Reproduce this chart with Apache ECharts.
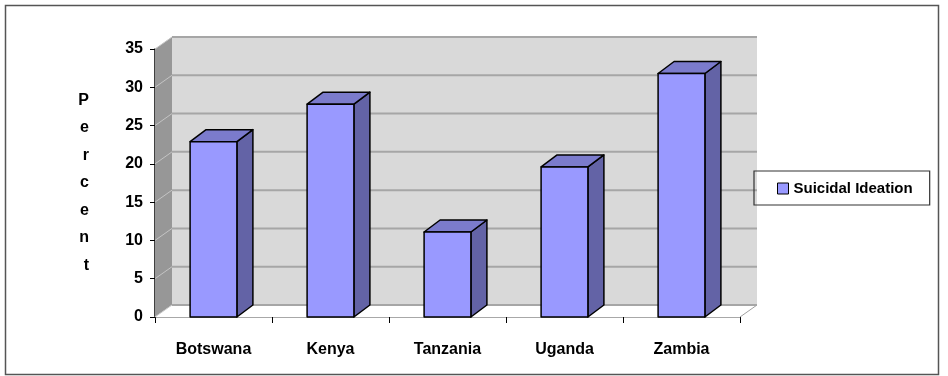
<!DOCTYPE html>
<html>
<head>
<meta charset="utf-8">
<script src="https://cdn.jsdelivr.net/npm/echarts@6/dist/echarts.min.js"></script>
<style>
html,body{margin:0;padding:0;background:#fff;}
#chart{width:948px;height:376px;}
</style>
</head>
<body>
<div id="chart"></div>
<script>
var categories = ['Botswana', 'Kenya', 'Tanzania', 'Uganda', 'Zambia'];
var ideation = [22.9, 27.8, 11.1, 19.6, 31.8];
var yTicks = [0, 5, 10, 15, 20, 25, 30, 35];

(function(){
var myChart = echarts.init(document.getElementById('chart'));

// depth offsets of the fake 3d look
var WALL_DX = 17, WALL_DY = -12;
var BAR_DX = 16, BAR_DY = -12;
var font = '"Liberation Sans", Arial, sans-serif';

function renderWalls(params, api) {
    var cs = params.coordSys;
    var x = cs.x, w = cs.width;
    var y0 = api.coord([0, 0])[1];
    var yTop = api.coord([0, yTicks[yTicks.length - 1]])[1];
    var kids = [];
    // back wall
    kids.push({type: 'polygon', shape: {points: [
        [x + WALL_DX, yTop + WALL_DY], [x + w + WALL_DX, yTop + WALL_DY],
        [x + w + WALL_DX, y0 + WALL_DY], [x + WALL_DX, y0 + WALL_DY]]},
        style: {fill: '#d9d9d9', stroke: null}});
    // side wall
    kids.push({type: 'polygon', shape: {points: [
        [x, y0], [x, yTop], [x + WALL_DX, yTop + WALL_DY], [x + WALL_DX, y0 + WALL_DY]]},
        style: {fill: '#979797', stroke: null}});
    // floor
    kids.push({type: 'polygon', shape: {points: [
        [x, y0], [x + WALL_DX, y0 + WALL_DY], [x + w + WALL_DX, y0 + WALL_DY], [x + w, y0]]},
        style: {fill: '#ffffff', stroke: null}});
    kids.push({type: 'polyline', shape: {points: [
        [x, y0], [x + WALL_DX, y0 + WALL_DY]]},
        style: {stroke: '#c8c8c8', lineWidth: 1, fill: null}});
    kids.push({type: 'polyline', shape: {points: [
        [x + w, y0], [x + w + WALL_DX, y0 + WALL_DY]]},
        style: {stroke: '#a0a0a0', lineWidth: 1, fill: null}});
    yTicks.forEach(function(v){
        var yy = api.coord([0, v])[1];
        kids.push({type: 'line', shape: {x1: x + WALL_DX, y1: yy + WALL_DY, x2: x + w + WALL_DX, y2: yy + WALL_DY},
            style: {stroke: '#a6a6a6', lineWidth: 2}});
        if (v > 0) {
            kids.push({type: 'line', shape: {x1: x, y1: yy, x2: x + WALL_DX, y2: yy + WALL_DY},
                style: {stroke: '#c4c4c4', lineWidth: 1}});
        }
    });
    return {type: 'group', children: kids};
}

function renderBar(params, api) {
    var i = api.value(0), v = api.value(1);
    var base = api.coord([i, 0]);
    var top = api.coord([i, v]);
    var bw = api.size([1, 0])[0] * 0.4;
    var l = base[0] - bw / 2, r = base[0] + bw / 2;
    var b = base[1], t = top[1];
    var edge = {stroke: '#000', lineWidth: 1.5, lineJoin: 'round'};
    return {type: 'group', children: [
        {type: 'polygon', shape: {points: [[r, b], [r, t], [r + BAR_DX, t + BAR_DY], [r + BAR_DX, b + BAR_DY]]},
            style: Object.assign({fill: '#6363a6'}, edge)},
        {type: 'polygon', shape: {points: [[l, t], [r, t], [r + BAR_DX, t + BAR_DY], [l + BAR_DX, t + BAR_DY]]},
            style: Object.assign({fill: '#7b7bcc'}, edge)},
        {type: 'rect', shape: {x: l, y: t, width: bw, height: b - t},
            style: Object.assign({fill: '#9999ff'}, edge)}
    ]};
}

var option = {
    animation: false,
    textStyle: {fontFamily: font},
    graphic: [{
        type: 'rect', left: 3, top: 3, silent: true,
        shape: {width: 933, height: 369},
        style: {fill: null, stroke: '#555', lineWidth: 1.5}
    }],
    grid: {left: 155, top: 49, width: 585, height: 268},
    legend: {
        left: 754, top: 171,
        padding: [10, 17, 9, 23],
        borderColor: '#333', borderWidth: 1.2,
        itemWidth: 11, itemHeight: 11, itemGap: 5,
        textStyle: {fontFamily: font, fontWeight: 'bold', fontSize: 15, color: '#000'},
        data: [{name: 'Suicidal Ideation', icon: 'rect',
            itemStyle: {color: '#9999ff', borderColor: '#000', borderWidth: 1}}]
    },
    xAxis: {
        type: 'category',
        data: categories,
        axisLine: {lineStyle: {color: '#8c8c8c', width: 1.5}},
        axisTick: {show: true, length: 6, lineStyle: {color: '#000'}},
        axisLabel: {margin: 25, fontFamily: font, fontWeight: 'bold', fontSize: 16, color: '#000'},
        splitLine: {show: false}
    },
    yAxis: {
        type: 'value',
        min: 0, max: 35, interval: 5,
        name: 'P\ne\nr\nc\ne\nn\nt',
        nameLocation: 'middle',
        nameRotate: 0,
        nameGap: 66,
        nameTextStyle: {fontFamily: font, fontWeight: 'bold', fontSize: 16, color: '#000', lineHeight: 27.5},
        axisLine: {show: true, lineStyle: {color: '#000', width: 1.5}},
        axisTick: {show: true, length: 5, lineStyle: {color: '#000'}},
        axisLabel: {margin: 12, fontFamily: font, fontWeight: 'bold', fontSize: 16, color: '#000'},
        splitLine: {show: false}
    },
    series: [
        {
            name: 'walls',
            type: 'custom',
            silent: true,
            z: 1,
            renderItem: renderWalls,
            data: [[0, 0]]
        },
        {
            name: 'Suicidal Ideation',
            type: 'custom',
            z: 3,
            itemStyle: {color: '#9999ff'},
            renderItem: renderBar,
            data: ideation.map(function(v, i){ return [i, v]; })
        }
    ]
};

myChart.setOption(option);
})();
</script>
</body>
</html>
